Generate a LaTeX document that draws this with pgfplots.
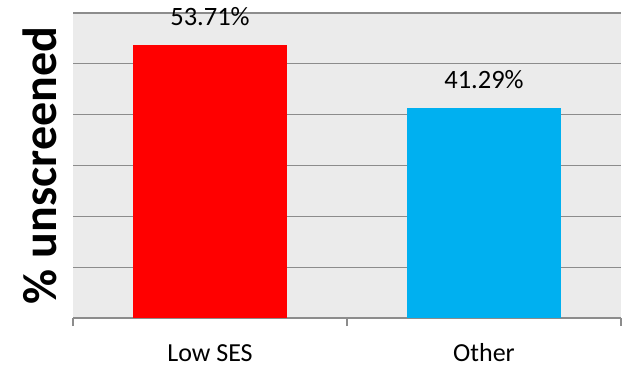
\documentclass[border=0pt]{standalone}
\usepackage{pgfplots}
\pgfplotsset{compat=1.18}
\usepackage{fontspec}
\setmainfont{Carlito}
\definecolor{plotbg}{HTML}{EBEBEB}
\definecolor{gridgray}{HTML}{8C8C8C}
\definecolor{lowses}{HTML}{FF0000}
\definecolor{other}{HTML}{00B0F0}
\begin{document}
\begin{tikzpicture}
\begin{axis}[
  scale only axis,
  width=548bp, height=305bp,
  xmin=-0.5, xmax=1.5,
  ymin=0, ymax=60,
  ytick={0,10,...,60},
  yticklabels={},
  ymajorgrids,
  grid style={gridgray, line width=1.3bp},
  axis background/.style={fill=plotbg},
  axis x line*=bottom,
  axis y line*=left,
  y axis line style={draw=none},
  ytick style={draw=none},
  x axis line style={gridgray, line width=1.3bp},
  xtick={0,1},
  xticklabels={Low SES, Other},
  major x tick style={draw=none},
  minor xtick={-0.5,0.5,1.5},
  minor x tick style={gridgray, line width=1.3bp},
  minor tick length=8bp,
  xtick align=outside,
  xticklabel style={font=\fontsize{26bp}{30bp}\selectfont, anchor=base, inner sep=0pt, yshift=-39.5bp},
  ylabel={\% unscreened},
  ylabel style={font=\fontsize{48bp}{56bp}\selectfont\bfseries, at={(rel axis cs:0,0.5)}, anchor=center, yshift=33bp},
  /pgf/number format/assume math mode=true,
  bar width=0.562,
  nodes near coords={\pgfmathprintnumber[fixed,precision=2,fixed zerofill]{\pgfplotspointmeta}\%},
  every node near coord/.style={font=\fontsize{26.5bp}{30bp}\selectfont, anchor=base, inner sep=0pt, yshift=19.5bp, black},
  clip=false,
]
\addplot[ybar, fill=lowses, draw=none] coordinates {(0,53.71)};
\addplot[ybar, fill=other, draw=none] coordinates {(1,41.29)};
\coordinate (bl) at (rel axis cs:0,0);
\coordinate (tr) at (rel axis cs:1,1);
\end{axis}
\pgfresetboundingbox
\path (bl) ++(-73bp,-47bp) rectangle (tr);
\path (tr) ++(8bp,13bp);
\end{tikzpicture}
\end{document}
